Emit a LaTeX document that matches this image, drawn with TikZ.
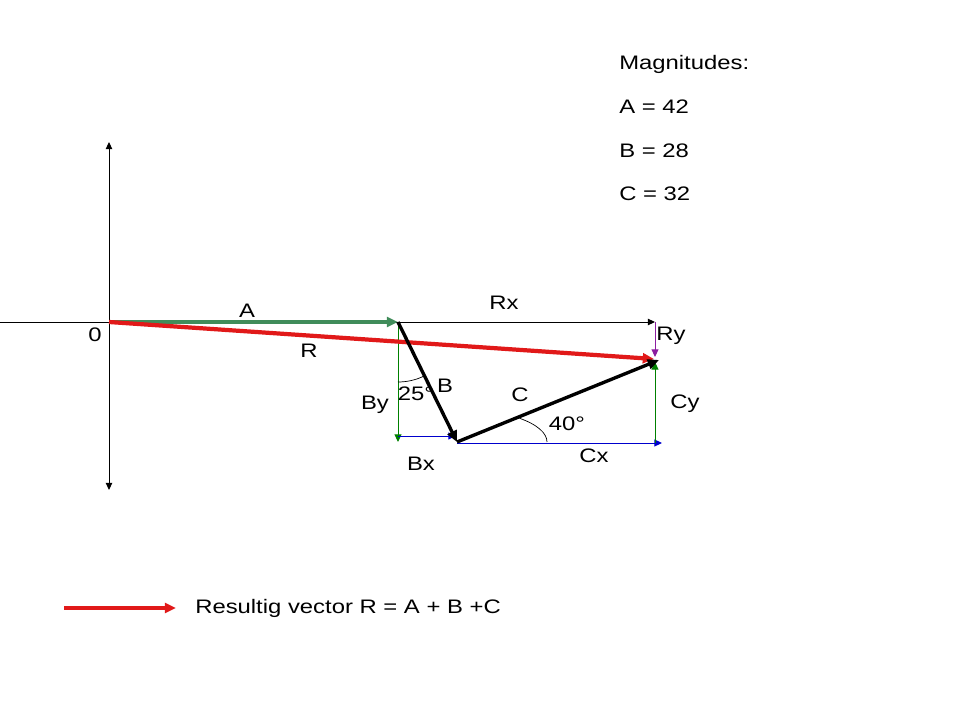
\documentclass[tikz,border=0pt]{standalone}
\usepackage{fontspec}
\setmainfont{Liberation Sans}[FakeStretch=1.22]
\usepackage{tikz}
\usetikzlibrary{positioning,arrows.meta}
\definecolor{agreen}{RGB}{64,140,90}
\definecolor{cgreen}{RGB}{0,128,0}
\definecolor{rred}{RGB}{225,25,25}
\definecolor{cblue}{RGB}{0,0,205}
\definecolor{rpurple}{RGB}{140,30,160}
\tikzstyle{axis}=[-{Triangle[length=5pt,width=4.5pt]}, black, line width=0.7pt]
\tikzstyle{comp}=[-{Triangle[length=5.5pt,width=5pt]}, line width=0.7pt]
\tikzstyle{vec}=[-{Triangle[length=8pt,width=7pt]}, line width=2.4pt]
\tikzstyle{lbl}=[inner sep=0pt, anchor=base]
\tikzstyle{txt}=[inner sep=0pt, anchor=base west]

\begin{document}
\begin{tikzpicture}[x=0.025cm, y=-0.025cm, font=\fontsize{13.9}{16}\selectfont]
            \useasboundingbox (0,0) rectangle (960,720);

            \coordinate (o) at (109,322);
            \coordinate (ytop) at (109,142);
            \coordinate (ybot) at (109,490);
            \coordinate (xleft) at (0,322);
            \coordinate (xright) at (655,322);
            \coordinate (a) at (398,322);
            \coordinate (b) at (457,442);
            \coordinate (c) at (659,360);
            \coordinate (rend) at (654,359);
            \coordinate (by) at (398,442);
            \coordinate (bxs) at (398,436);
            \coordinate (bx) at (456,436);
            \coordinate (cxs) at (457,443);
            \coordinate (cx) at (662,443);
            \coordinate (cys) at (655,443);
            \coordinate (cy) at (655,362);
            \coordinate (rys) at (655,322);
            \coordinate (ry) at (655,357);

            % axes
            \draw[axis, {Triangle[length=5pt,width=4.5pt]}-{Triangle[length=5pt,width=4.5pt]}] (ybot) -- (ytop);
            \draw[axis] (xleft) -- (xright);

            % components
            \draw[comp, cgreen] (a) -- (by);
            \draw[comp, cblue] (bxs) -- (bx);
            \draw[comp, cblue] (cxs) -- (cx);
            \draw[comp, cgreen] (cys) -- (cy);
            \draw[comp, rpurple] (rys) -- (ry);

            % vectors
            \draw[vec, agreen] (o) -- (a);
            \draw[vec, rred, line width=3pt] (o) -- (rend);
            \draw[vec, black] (a) -- (b);
            \draw[vec, black] (b) -- (c);

            % angles
            \draw[line width=0.5pt] (a) ++(0,60) arc[start angle=90, end angle=64, radius=60];
            \draw[line width=0.5pt] (b) ++(90,0) arc[start angle=0, end angle=-46, x radius=90, y radius=33];

            % labels
            \node[lbl] (l0) at (95,342) {0};
            \node[lbl] (la) at (247,318) {A};
            \node[lbl] (lr) at (309,358) {R};
            \node[lbl] (lrx) at (504,310) {Rx};
            \node[lbl] (lry) at (671,341) {Ry};
            \node[lbl] (lby) at (375,410) {By};
            \node[lbl] (l25) at (416,401) {25°};
            \node[lbl] (lb) at (445,393) {B};
            \node[lbl] (lc) at (520,402) {C};
            \node[lbl] (l40) at (567,431) {40°};
            \node[lbl] (lcy) at (685,409) {Cy};
            \node[lbl] (lbx) at (421,471) {Bx};
            \node[lbl] (lcx) at (594,463) {Cx};

            % magnitudes
            \node[txt] (mag) at (619,69.5) {Magnitudes:};
            \node[txt] (mga) at (619,114) {A = 42};
            \node[txt] (mgb) at (619,157.3) {B = 28};
            \node[txt] (mgc) at (619,200.7) {C = 32};

            % legend
            \coordinate (ls) at (64,608);
            \coordinate (le) at (176,608);
            \draw[vec, rred, line width=3pt] (ls) -- (le);
            \node[txt] (leg) at (195,613) {Resultig vector R = A + B +C};
        \end{tikzpicture}
\end{document}
